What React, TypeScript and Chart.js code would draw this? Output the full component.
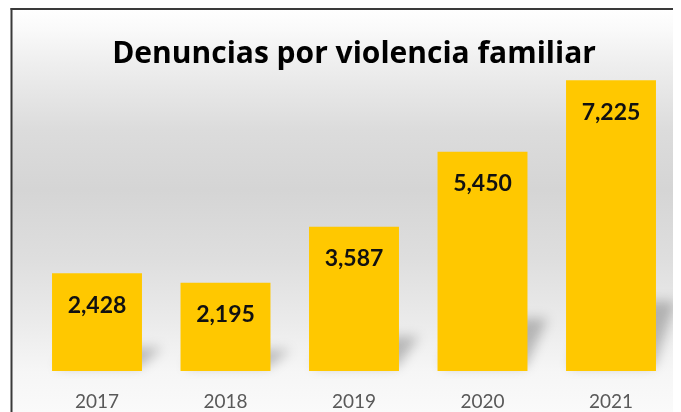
import React, { useEffect, useRef } from "react";
import { Chart, registerables } from "chart.js";

Chart.register(...registerables);

const categories = ["2017", "2018", "2019", "2020", "2021"];
const values = [2428, 2195, 3587, 5450, 7225];
const titleText = "Denuncias por violencia familiar";
const yMax = 8000;

const backgroundPlugin = {
  id: "bgPlugin",
  beforeDraw(chart: any) {
    const { ctx, width, height } = chart;
    ctx.save();
    ctx.fillStyle = "#ffffff";
    ctx.fillRect(0, 0, width, height);
    const g = ctx.createLinearGradient(0, 0, 0, height);
    g.addColorStop(0, "#ffffff");
    g.addColorStop(0.05, "#fafafa");
    g.addColorStop(0.14, "#eeeeee");
    g.addColorStop(0.3, "#dcdcdc");
    g.addColorStop(0.45, "#d5d5d5");
    g.addColorStop(0.62, "#dedede");
    g.addColorStop(0.78, "#ebebeb");
    g.addColorStop(0.9, "#f6f6f6");
    g.addColorStop(1, "#fafafa");
    ctx.fillStyle = g;
    ctx.fillRect(4, 2, width - 4, height - 2);
    ctx.fillStyle = "#3a3a3a";
    ctx.fillRect(2.5, 0, 2, height);
    ctx.fillRect(2.5, 0, width - 2.5, 2);
    ctx.restore();
  },
};

const shadowPlugin = {
  id: "shadowPlugin",
  beforeDatasetsDraw(chart: any) {
    const { ctx } = chart;
    const meta = chart.getDatasetMeta(0);
    ctx.save();
    ctx.filter = "blur(6px)";
    ctx.fillStyle = "rgba(0,0,0,0.24)";
    meta.data.forEach((bar: any) => {
      const p = bar.getProps(["x", "y", "base", "width"], true);
      const left = p.x - p.width / 2;
      const right = p.x + p.width / 2;
      const h = p.base - p.y;
      const dy = h * 0.24;
      const dx = 20;
      ctx.beginPath();
      ctx.moveTo(left + 4, p.base - 4);
      ctx.lineTo(right - 2, p.base - 4);
      ctx.lineTo(right + dx, p.base - dy);
      ctx.lineTo(left + dx, p.base - dy);
      ctx.closePath();
      ctx.fill();
    });
    ctx.restore();
  },
};

const labelPlugin = {
  id: "labelPlugin",
  afterDatasetsDraw(chart: any) {
    const { ctx } = chart;
    const meta = chart.getDatasetMeta(0);
    ctx.save();
    ctx.font = "bold 23px Lato";
    ctx.fillStyle = "#111111";
    ctx.textAlign = "center";
    ctx.textBaseline = "alphabetic";
    meta.data.forEach((bar: any, i: number) => {
      const p = bar.getProps(["x", "y"], true);
      ctx.fillText(values[i].toLocaleString("en-US"), p.x, p.y + 39.5);
    });
    ctx.restore();
  },
  afterDraw(chart: any) {
    const { ctx, chartArea } = chart;
    ctx.save();
    ctx.font = "bold 30px 'Open Sans'";
    ctx.fillStyle = "#000000";
    ctx.textAlign = "center";
    ctx.textBaseline = "alphabetic";
    ctx.fillText(titleText, (chartArea.left + chartArea.right) / 2, 55);
    ctx.restore();
  },
};

export default function App() {
  const ref = useRef<HTMLCanvasElement | null>(null);
  useEffect(() => {
    if (!ref.current) return;
    const chart = new Chart(ref.current, {
      type: "bar",
      data: {
        labels: categories,
        datasets: [
          {
            data: values,
            backgroundColor: "#FFC800",
            borderWidth: 0,
            barPercentage: 0.7,
            categoryPercentage: 1,
          },
        ],
      },
      options: {
        animation: false,
        responsive: false,
        maintainAspectRatio: false,
        layout: { padding: { left: 24.75, right: 5.75, top: 41, bottom: -20 } },
        plugins: {
          legend: { display: false },
          title: { display: false },
          tooltip: { enabled: false },
        },
        scales: {
          x: {
            grid: { display: false, drawTicks: false },
            border: { display: false },
            ticks: {
              color: "#595959",
              font: { family: "Lato", size: 19, lineHeight: 1.1 },
              padding: 20,
            },
          },
          y: {
            display: false,
            min: 0,
            max: yMax,
          },
        },
      },
      plugins: [backgroundPlugin, shadowPlugin, labelPlugin],
    });
    return () => chart.destroy();
  }, []);
  return (
    <div style={{ width: 673, height: 404 }}>
      <canvas ref={ref} width={673} height={404} style={{ display: "block" }} />
    </div>
  );
}
